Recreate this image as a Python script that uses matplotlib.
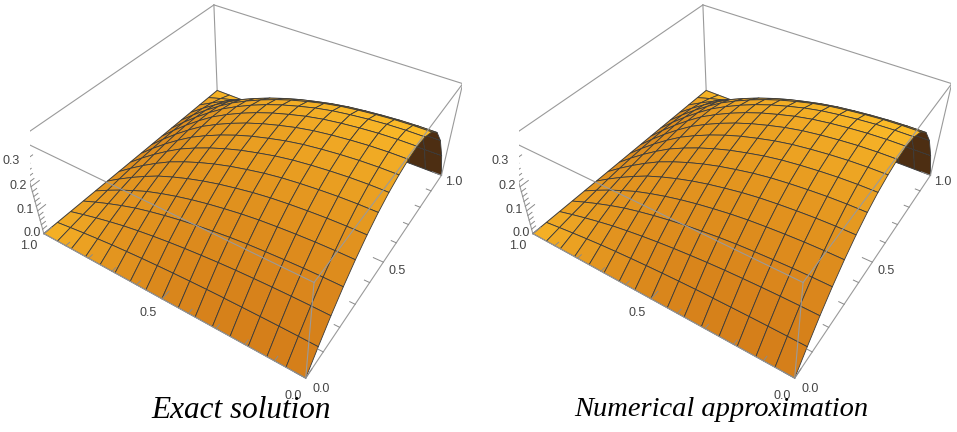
import numpy as np
import matplotlib
matplotlib.use('Agg')
import matplotlib.pyplot as plt

# mesh: 16 cells each way (Mathematica default Mesh -> 15)
q_vals = np.linspace(0, 1, 17)   # axis along the front-right edge
p_vals = np.linspace(0, 1, 17)   # axis along the front-left edge

# profiles (relative height)
q_profile = [0.0, 0.18, 0.35, 0.50, 0.63, 0.74, 0.83, 0.90, 0.95,
             0.985, 1.0, 0.985, 0.93, 0.82, 0.63, 0.35, 0.0]
p_profile = [1.0, 0.998, 0.99, 0.975, 0.955, 0.93, 0.895, 0.85, 0.80,
             0.74, 0.67, 0.59, 0.50, 0.39, 0.27, 0.14, 0.0]
peak = 0.37

titles = ['Exact solution', 'Numerical approximation']
xy_ticks = [0.0, 0.5, 1.0]
z_ticks = [0.0, 0.1, 0.2, 0.3]

ZTOP = 0.38
ELEV, AZIM = 40, 213
ASPECT = (1, 1, 0.4)
ZOOM = 1.0

X, Y = np.meshgrid(q_vals, p_vals)
Z = peak * np.outer(p_profile, q_profile)


def face_colors(X, Y, Z):
    sz = ASPECT[2] / ZTOP
    dq = X[0, 1] - X[0, 0]
    dp = Y[1, 0] - Y[0, 0]
    dzx = ((Z[:-1, 1:] - Z[:-1, :-1]) + (Z[1:, 1:] - Z[1:, :-1])) / 2 / dq
    dzy = ((Z[1:, :-1] - Z[:-1, :-1]) + (Z[1:, 1:] - Z[:-1, 1:])) / 2 / dp
    n = np.dstack([-dzx * sz, -dzy * sz, np.ones_like(dzx)])
    n /= np.linalg.norm(n, axis=2, keepdims=True)
    e, a = np.deg2rad(ELEV), np.deg2rad(AZIM)
    view = np.array([np.cos(e) * np.cos(a), np.cos(e) * np.sin(a), np.sin(e)])
    light = np.array([0.35, -0.35, 0.87])
    light /= np.linalg.norm(light)
    dark = np.array([0.83, 0.49, 0.10])
    bright = np.array([0.99, 0.74, 0.16])
    brown = np.array([0.30, 0.18, 0.07])
    t = np.clip((n @ light - 0.3) / 0.65, 0, 1)[..., None]
    cols = dark * (1 - t) + bright * t
    back = (n @ view) < 0
    cols[back] = brown
    fc = np.ones(Z.shape + (4,))
    fc[:-1, :-1, :3] = cols
    return fc


def draw_box(ax):
    c = '#9a9a9a'
    lw = 0.8
    hidden = [((0, 1, 0), (1, 1, 0)), ((1, 1, 0), (1, 0, 0)),
              ((1, 1, 0), (1, 1, ZTOP))]
    shown = [((0, 0, 0), (0, 1, 0)), ((0, 0, 0), (1, 0, 0)),
             ((0, 0, 0), (0, 0, ZTOP)), ((0, 1, 0), (0, 1, ZTOP)),
             ((1, 0, 0), (1, 0, ZTOP)),
             ((0, 0, ZTOP), (0, 1, ZTOP)), ((0, 1, ZTOP), (1, 1, ZTOP)),
             ((1, 1, ZTOP), (1, 0, ZTOP)), ((1, 0, ZTOP), (0, 0, ZTOP))]
    for seg, z in [(hidden, 1), (shown, 3)]:
        for a, b in seg:
            ax.plot([a[0], b[0]], [a[1], b[1]], [a[2], b[2]],
                    color=c, lw=lw, zorder=z)

    tc = '#8a8a8a'
    lab = dict(color='#444444', fontsize=9, family='Liberation Sans',
               ha='center', va='center', zorder=4)
    # front-right edge (q axis), ticks pointing into the box
    for v in np.arange(0, 1.001, 0.1):
        ln = 0.035 if abs(v * 2 - round(v * 2)) < 1e-6 else 0.018
        ax.plot([v, v], [0, ln], [0, 0], color=tc, lw=0.7, zorder=3)
    for v in xy_ticks:
        ax.text(v, -0.05, -0.01, f'{v:.1f}', **lab)
    # front-left edge (p axis)
    for v in np.arange(0, 1.001, 0.1):
        ln = 0.035 if abs(v * 2 - round(v * 2)) < 1e-6 else 0.018
        ax.plot([0, ln], [v, v], [0, 0], color=tc, lw=0.7, zorder=3)
    for v in xy_ticks:
        ax.text(-0.065, v, 0.0, f'{v:.1f}', **lab)
    # vertical axis on the left edge
    for v in np.arange(0, 0.361, 0.02):
        ln = 0.035 if abs(v * 10 - round(v * 10)) < 1e-6 else 0.018
        ax.plot([0, ln], [1, 1], [v, v], color=tc, lw=0.7, zorder=3)
    for v in z_ticks:
        ax.text(-0.02, 1.035, v, f'{v:.1f}', **lab)


fig = plt.figure(figsize=(9.57, 4.32), dpi=100)
fc = face_colors(X, Y, Z)

size = 432.0
for k, title in enumerate(titles):
    cx = 246 + 489 * k
    cy = 165
    ax = fig.add_axes([(cx - size / 2) / 957, (432 - cy - size / 2) / 432,
                       size / 957, size / 432], projection='3d',
                      computed_zorder=False)
    ax.set_proj_type('persp', focal_length=0.3 * ZOOM)
    ax.view_init(elev=ELEV, azim=AZIM)
    ax.set_box_aspect(ASPECT, zoom=ZOOM)
    ax.set_xlim(0, 1)
    ax.set_ylim(0, 1)
    ax.set_zlim(0, ZTOP)
    ax.set_axis_off()
    ax.plot_surface(X, Y, Z, facecolors=fc, rstride=1, cstride=1,
                    shade=False, edgecolor='#3a3a3a', linewidth=0.6,
                    antialiased=True, zorder=2)
    draw_box(ax)

fig.text(241 / 957, 1 - 410 / 432, titles[0], fontsize=22.5,
         family='Liberation Serif', style='italic', ha='center', va='center')
fig.text(721 / 957, 1 - 410 / 432, titles[1], fontsize=20.5,
         family='Liberation Serif', style='italic', ha='center', va='center')

fig.savefig('out.png', dpi=100)
